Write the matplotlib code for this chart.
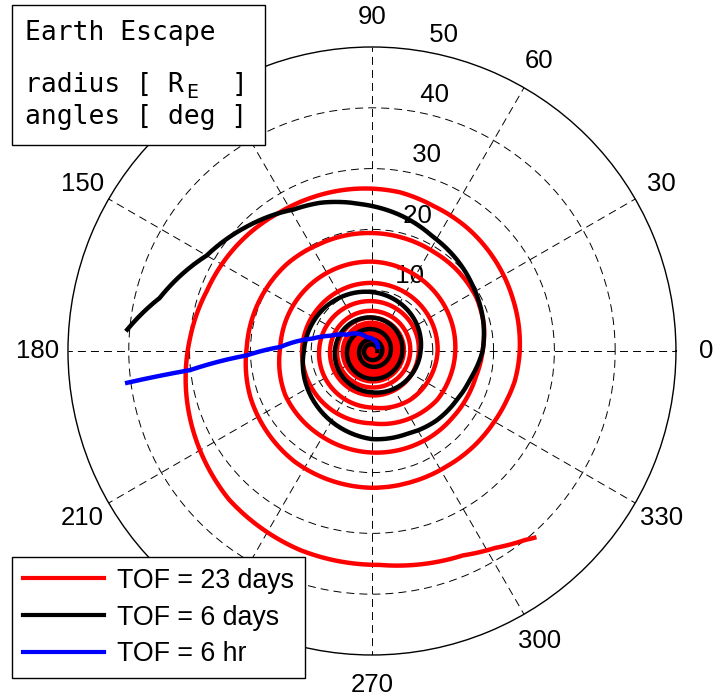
import numpy as np
import matplotlib
matplotlib.use('Agg')
import matplotlib.pyplot as plt
from matplotlib.lines import Line2D
from matplotlib.patches import Rectangle

plt.rcParams['font.family'] = ['Liberation Sans', 'DejaVu Sans']
plt.rcParams['mathtext.fontset'] = 'custom'
plt.rcParams['mathtext.rm'] = 'DejaVu Sans Mono'

# trajectories: polar angle [deg], radius [R_E]
red_ang = [270, 0, 90, 180,  270, 0, 90, 180,  270, 0, 90, 180,  270, 0, 90, 180,
           270, 0, 90, 180,  270, 0, 90, 180,  270, 0, 90, 180,  270, 0, 90, 180,
           270, 0, 90, 180,  270, 0, 90, 180,  270, 0, 90, 180,  270, 0, 90, 180,
           270, 0, 90, 180,  270, 0, 90, 180,
           270, 308, 0, 90, 140, 180,
           270, 302, 323, 339, 0, 45, 90, 135, 178, 207, 240,
           270, 286, 304, 321, 334, 346, 0, 13, 27, 44, 58, 76, 90, 117, 134, 150, 178,
           201, 235,
           270, 288, 303, 316, 329, 340, 348, 0, 20, 38, 52, 67, 80, 95, 111, 124, 135,
           147, 160, 176, 195, 226, 250,
           272, 283, 294, 302, 309, 311]
red_r = [0.1, 0.25, 0.4, 0.55,  0.7, 0.85, 1.0, 1.1,  1.2, 1.3, 1.35, 1.4,  1.5, 1.6, 1.65, 1.7,
         1.8, 1.9, 1.95, 2.0,  2.1, 2.2, 2.25, 2.3,  2.4, 2.5, 2.6, 2.7,  2.8, 2.9, 3.0, 3.1,
         3.2, 3.35, 3.45, 3.6,  3.7, 3.85, 4.0, 4.15,  4.3, 4.45, 4.65, 4.8,  5.0, 5.25, 5.5, 5.75,
         6.0, 6.3, 6.6, 6.9,  7.3, 7.7, 8.2, 8.7,
         9.3, 10.2, 10.8, 11.2, 11.3, 11.5,
         11.9, 12.8, 13.4, 13.5, 13.7, 14.2, 14.7, 14.9, 15.1, 16.0, 16.3,
         16.7, 16.9, 17.1, 17.2, 17.4, 17.6, 18.2, 18.9, 19.3, 19.3, 19.2, 19.3, 19.4, 19.6, 20.0,
         20.2, 20.6, 21.4, 22.2,
         22.5, 22.5, 22.6, 22.9, 23.2, 23.6, 24.0, 24.3, 24.7, 25.2, 25.6, 25.9, 26.5, 26.8,
         27.1, 27.4, 27.9, 28.4, 28.9, 30.0, 31.5, 33.9, 34.8,
         35.2, 36.0, 36.8, 38.2, 40.0, 40.7]

black_ang = [0, 90, 180, 270,  0, 90, 180, 270,  0, 90, 180, 270,  0, 90, 180, 270,
             0, 90, 135, 180, 225, 270, 293, 313, 330, 344, 0, 16, 32, 47, 62, 78, 94, 109,
             119, 135, 150, 166, 175]
black_r = [0.9, 1.1, 1.3, 1.5,  1.7, 1.9, 2.1, 2.6,  3.1, 3.6, 4.1, 4.6,  5.0, 5.5, 6.1, 6.8,
           8.0, 9.7, 10.5, 11.2, 12.8, 14.5, 14.8, 15.6, 16.1, 16.8, 18.2, 19.0, 19.7, 20.5,
           21.3, 22.8, 24.2, 25.8, 26.6, 29.0, 31.4, 36.0, 40.4]

blue_ang = [34, 58, 110, 147, 160, 168, 177.5, 182, 186, 187.4]
blue_r = [1.2, 1.5, 2.4, 4.9, 7.3, 9.9, 15.1, 20.6, 30.1, 40.6]

angle_labels = [0, 30, 60, 90, 150, 180, 210, 270, 300, 330]
radius_ticks = [10, 20, 30, 40, 50]
rmax = 50

series = [(red_ang, red_r, '#ff0000', 'TOF = 23 days'),
          (black_ang, black_r, '#000000', 'TOF = 6 days'),
          (blue_ang, blue_r, '#0000ff', 'TOF = 6 hr')]

fig = plt.figure(figsize=(7.27, 6.98), dpi=100)
ax = fig.add_axes([0.0935, 0.0616, 0.8363, 0.8711], projection='polar')

handles = []
for i, (ang, r, col, lab) in enumerate(series):
    th = np.unwrap(np.deg2rad(ang))
    ln, = ax.plot(th, r, color=col, lw=3.2, zorder=4 + i, label=lab)
    # let the polar transform draw each segment as a spiral piece
    ln.get_path()._interpolation_steps = 24
    handles.append(Line2D([], [], color=col, lw=3))

ax.set_ylim(0, rmax)
ax.set_xticks(np.deg2rad(np.arange(0, 360, 30)))
ax.set_xticklabels([])
ax.set_yticks(radius_ticks[:-1])
ax.set_yticklabels([])
ax.grid(True, color='k', ls=(0, (8.2, 5.2)), lw=0.7)
ax.spines['polar'].set_color('k')
ax.spines['polar'].set_linewidth(1.0)

for a in angle_labels:
    ax.text(np.deg2rad(a), 1.1 * rmax, str(a), ha='center', va='center',
            fontsize=18.5, clip_on=False, zorder=3)
for r in radius_ticks:
    ax.text(np.deg2rad(82), r + rmax / 100, '  ' + str(r), ha='left', va='bottom',
            fontsize=18.5, clip_on=False, zorder=3)

leg = ax.legend(handles, [s[3] for s in series], loc='lower left',
                bbox_to_anchor=(0.0165, 0.0287), bbox_transform=fig.transFigure,
                borderaxespad=0, fancybox=False, framealpha=1, edgecolor='k',
                fontsize=19.3, handlelength=3.05, handletextpad=0.48,
                borderpad=0.4, labelspacing=0.40)
leg.set_zorder(10)
leg.get_frame().set_linewidth(1.0)

box = Rectangle((0.0165, 0.7923), 0.348, 0.2006, transform=fig.transFigure,
                facecolor='white', edgecolor='k', lw=1.0, zorder=10)
fig.add_artist(box)
mono = dict(family='DejaVu Sans Mono', fontsize=19, va='baseline', ha='left', zorder=11)
fig.text(0.0344, 0.942, 'Earth Escape', **mono)
fig.text(0.0344, 0.868, 'radius [ R', **mono)
fig.text(0.2565, 0.860, r'$\mathrm{E}$', **dict(mono, fontsize=14.5))
fig.text(0.3186, 0.868, ']', **mono)
fig.text(0.0344, 0.822, 'angles [ deg ]', **mono)

fig.savefig('out.png', dpi=100)
